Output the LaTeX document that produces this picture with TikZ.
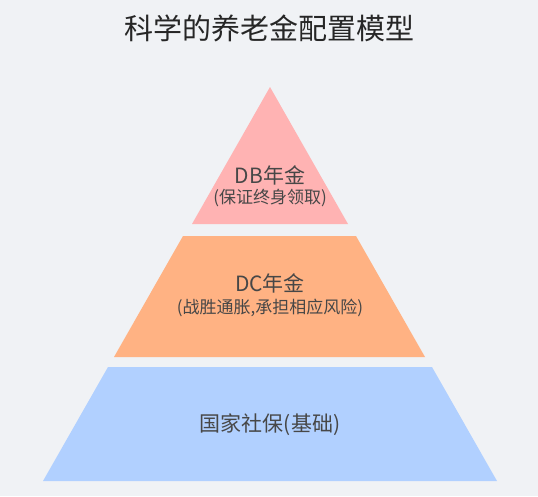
\documentclass[tikz,border=0pt]{standalone}
\usepackage{fontspec}
\usepackage{tikz}
\usetikzlibrary{positioning}
\newfontfamily\cjk{Noto Sans CJK SC}
\definecolor{pagebg}{HTML}{F0F2F5}
\definecolor{tierpink}{HTML}{FFB3B3}
\definecolor{tierorange}{HTML}{FFB283}
\definecolor{tierblue}{HTML}{B1D0FF}
\definecolor{labelgray}{HTML}{474747}
\tikzset{
  tierlabel/.style={font=\cjk\fontsize{21}{25}\selectfont, text=labelgray, inner sep=0pt},
  tiernote/.style={font=\cjk\fontsize{17}{20}\selectfont, text=labelgray, inner sep=0pt},
  titletext/.style={font=\cjk\fontsize{29}{34}\selectfont, text=black!85, inner sep=0pt},
}

\begin{document}
\begin{tikzpicture}[x=1pt, y=-1pt]
  \useasboundingbox (0,0) rectangle (538,496);
  \fill[pagebg] (0,0) rectangle (538,496);

  % Title
  \node[titletext] (title) at (269,28) {科学的养老金配置模型};

  % Top tier
  \fill[tierpink] (270,87) -- (348,224) -- (192,224) -- cycle;
  \node[tierlabel] (db) at (270,175) {DB年金};
  \node[tiernote, below=4pt of db] (dbnote) {(保证终身领取)};

  % Middle tier
  \fill[tierorange] (183,236) -- (356,236) -- (425,357) -- (114,357) -- cycle;
  \node[tierlabel] (dc) at (270,283) {DC年金};
  \node[tiernote, below=6pt of dc] (dcnote) {(战胜通胀,承担相应风险)};

  % Bottom tier
  \fill[tierblue] (108,367) -- (432,367) -- (497,481) -- (43,481) -- cycle;
  \node[tierlabel] (base) at (270,425) {国家社保(基础)};
\end{tikzpicture}
\end{document}
